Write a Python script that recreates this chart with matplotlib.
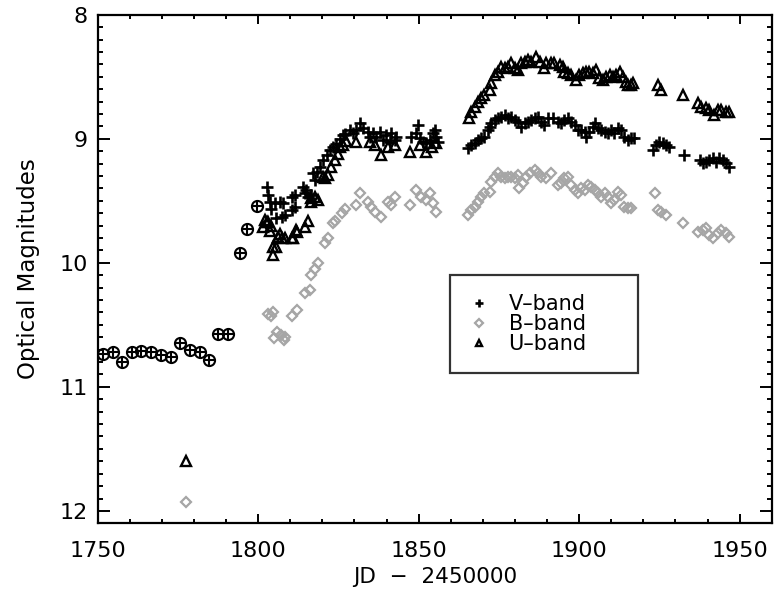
import numpy as np
import matplotlib
matplotlib.use('Agg')
import matplotlib.pyplot as plt
from matplotlib.ticker import MultipleLocator

# Early (pre-outburst) V photometry, drawn as circled plus
early_jd = [1751.6, 1754.7, 1757.7, 1760.6, 1763.5, 1766.5, 1769.6, 1772.7,
            1775.6, 1778.7, 1781.8, 1784.7, 1787.5, 1790.6, 1794.3, 1796.6, 1799.5]
early_mag = [10.736, 10.72, 10.80, 10.72, 10.71, 10.72, 10.74, 10.76,
             10.65, 10.70, 10.72, 10.78, 10.57, 10.57, 9.92, 9.73, 9.54]

# V-band
v_jd = [1802.6, 1803.1, 1803.6, 1804.1, 1805.2, 1806.7, 1807.8, 1805.7, 1807.3, 1808.3,
        1810.4, 1811.4, 1810.4, 1811.4, 1814.0, 1814.5, 1815.0, 1815.6, 1816.6, 1817.1,
        1817.6, 1818.2, 1819.2, 1820.2, 1821.3, 1822.3, 1823.3, 1824.4, 1825.4, 1826.5,
        1827.0, 1828.5, 1829.5,
        1830.6, 1831.6, 1832.7, 1834.2, 1834.8, 1835.8, 1836.8, 1837.9, 1838.9, 1839.9,
        1841.0, 1841.5, 1842.5, 1843.0, 1847.7, 1849.3, 1849.8, 1850.3, 1851.4, 1852.4,
        1853.4, 1854.5, 1855.0, 1855.5, 1856.0,
        1865.4, 1866.4, 1867.4, 1868.5, 1869.5, 1870.5, 1871.6, 1872.1, 1872.6, 1873.7,
        1874.7, 1875.7, 1876.8, 1877.8, 1878.8, 1879.9, 1880.9, 1882.0, 1883.0, 1884.0,
        1885.1, 1886.1, 1887.1, 1888.2, 1889.2, 1890.3, 1891.8, 1893.4, 1894.4, 1895.4,
        1896.5, 1897.5, 1898.6, 1899.6, 1900.6, 1901.7, 1902.2, 1903.2, 1904.3, 1904.8,
        1905.8, 1906.9, 1907.9, 1908.9, 1910.0, 1911.0, 1912.0, 1913.1, 1914.1, 1915.2,
        1916.2, 1917.2, 1922.9, 1924.0, 1925.0, 1926.1, 1927.1, 1928.1, 1932.8, 1937.5,
        1938.5, 1939.5, 1940.6, 1941.6, 1942.7, 1943.7, 1944.7, 1945.8, 1946.8]
v_mag = [9.39, 9.45, 9.51, 9.57, 9.52, 9.51, 9.52, 9.64, 9.63, 9.615,
         9.47, 9.455, 9.575, 9.55, 9.39, 9.44, 9.41, 9.47, 9.455, 9.28,
         9.33, 9.27, 9.23, 9.17, 9.13, 9.09, 9.065, 9.04, 9.0, 8.97,
         8.96, 8.93, 8.95,
         8.93, 8.875, 8.915, 8.945, 8.985, 8.955, 8.985, 8.945, 9.01, 8.97,
         9.025, 8.955, 9.01, 8.985, 8.985, 8.955, 8.89, 8.995, 9.025, 9.035,
         9.01, 8.955, 8.93, 8.985, 9.025,
         9.078, 9.051, 9.037, 9.010, 8.997, 8.984, 8.930, 8.903, 8.876, 8.849,
         8.836, 8.822, 8.809, 8.836, 8.822, 8.849, 8.863, 8.903, 8.876, 8.863,
         8.849, 8.836, 8.822, 8.863, 8.890, 8.836, 8.836, 8.863, 8.876, 8.849,
         8.836, 8.863, 8.890, 8.930, 8.930, 8.943, 8.984, 8.943, 8.903, 8.876,
         8.916, 8.930, 8.943, 8.957, 8.930, 8.957, 8.916, 8.930, 8.984, 9.010,
         8.997, 8.997, 9.091, 9.051, 9.024, 9.037, 9.051, 9.064, 9.131, 9.172,
         9.199, 9.185, 9.172, 9.158, 9.185, 9.158, 9.172, 9.199, 9.226]

# B-band
b_jd = [1777.5,
        1803.1, 1804.0, 1804.5, 1805.0, 1806.0, 1807.0, 1808.0, 1808.5, 1810.4, 1812.0,
        1814.5, 1816.0, 1816.6, 1817.7, 1818.7, 1820.8, 1821.8, 1823.3, 1823.9, 1826.0,
        1827.0, 1830.6, 1831.6, 1834.2, 1835.3, 1836.3, 1838.4, 1840.5, 1841.5, 1842.6,
        1847.2, 1849.3, 1850.8, 1852.4, 1853.4, 1854.4, 1855.5,
        1865.4, 1866.4, 1867.4, 1868.5, 1869.5, 1870.5, 1872.1, 1872.6, 1873.7, 1874.7,
        1875.7, 1876.8, 1877.8, 1878.8, 1879.9, 1880.9, 1881.4, 1882.5, 1883.5, 1884.6,
        1886.1, 1887.1, 1888.2, 1889.7, 1891.3, 1893.4, 1894.4, 1895.4, 1896.5, 1897.5,
        1898.6, 1899.6, 1900.6, 1901.7, 1902.7, 1903.7, 1904.8, 1905.8, 1906.9, 1907.9,
        1908.9, 1910.0, 1911.0, 1912.0, 1913.1, 1914.1, 1915.2, 1916.2, 1923.5, 1924.5,
        1925.5, 1927.1, 1932.3, 1936.9, 1938.5, 1939.5, 1940.6, 1941.6, 1943.2, 1944.2,
        1945.8, 1946.8]
b_mag = [11.93,
         10.41, 10.43, 10.40, 10.61, 10.56, 10.58, 10.62, 10.60, 10.43, 10.38,
         10.24, 10.22, 10.10, 10.05, 10.00, 9.84, 9.80, 9.68, 9.66, 9.60,
         9.57, 9.53, 9.44, 9.51, 9.55, 9.59, 9.63, 9.51, 9.53, 9.47,
         9.53, 9.41, 9.47, 9.49, 9.44, 9.52, 9.59,
         9.615, 9.575, 9.548, 9.508, 9.467, 9.441, 9.427, 9.347, 9.306, 9.279,
         9.306, 9.320, 9.306, 9.306, 9.320, 9.293, 9.400, 9.360, 9.306, 9.279,
         9.252, 9.279, 9.306, 9.320, 9.279, 9.373, 9.360, 9.320, 9.306, 9.373,
         9.414, 9.441, 9.400, 9.414, 9.373, 9.387, 9.414, 9.441, 9.467, 9.441,
         9.467, 9.521, 9.494, 9.427, 9.454, 9.548, 9.562, 9.562, 9.441, 9.575,
         9.588, 9.615, 9.683, 9.750, 9.736, 9.723, 9.777, 9.803, 9.763, 9.736,
         9.763, 9.790]

# U-band
u_jd = [1777.5,
        1801.5, 1802.1, 1802.6, 1803.1, 1803.6, 1804.1, 1804.7, 1804.7, 1805.7, 1806.2,
        1806.7, 1807.3, 1808.3, 1810.4, 1810.9, 1811.9, 1812.0, 1814.5, 1815.6, 1816.6,
        1816.6, 1817.7, 1818.7, 1820.3, 1820.7, 1821.8, 1822.8, 1823.9, 1824.9, 1825.5,
        1826.5, 1827.5, 1830.6, 1834.8, 1836.3, 1838.4, 1840.5, 1842.5, 1847.2, 1850.3,
        1852.4, 1854.0, 1855.5,
        1865.7, 1866.4, 1867.4, 1868.5, 1869.5, 1870.5, 1872.1, 1872.6, 1873.7, 1874.7,
        1875.7, 1876.8, 1877.8, 1878.8, 1879.9, 1880.9, 1882.0, 1883.0, 1884.0, 1885.1,
        1886.6, 1887.7, 1889.2, 1889.7, 1891.3, 1892.3, 1893.9, 1894.9, 1895.4, 1896.5,
        1897.5, 1899.1, 1900.1, 1901.2, 1902.2, 1903.2, 1904.3, 1905.3, 1906.3, 1907.4,
        1908.4, 1909.5, 1910.5, 1911.5, 1912.6, 1913.6, 1914.6, 1915.2, 1916.2, 1916.7,
        1924.5, 1925.5, 1932.3, 1936.9, 1938.0, 1939.5, 1940.6, 1942.1, 1943.2, 1944.2,
        1945.8, 1946.8]
u_mag = [11.60,
         9.71, 9.655, 9.67, 9.67, 9.74, 9.70, 9.87, 9.94, 9.87, 9.79,
         9.765, 9.80, 9.80, 9.80, 9.80, 9.735, 9.75, 9.71, 9.66, 9.48,
         9.51, 9.47, 9.49, 9.31, 9.32, 9.29, 9.225, 9.17, 9.12, 9.07,
         9.05, 9.02, 9.025, 9.025, 9.05, 9.13, 9.065, 9.05, 9.105, 9.05,
         9.105, 9.065, 9.035,
         8.835, 8.782, 8.742, 8.701, 8.674, 8.648, 8.607, 8.554, 8.486, 8.459,
         8.419, 8.433, 8.419, 8.392, 8.433, 8.446, 8.392, 8.379, 8.365, 8.379,
         8.338, 8.379, 8.433, 8.392, 8.392, 8.392, 8.406, 8.419, 8.459, 8.473,
         8.486, 8.527, 8.486, 8.473, 8.459, 8.459, 8.473, 8.446, 8.513, 8.527,
         8.500, 8.486, 8.500, 8.486, 8.459, 8.500, 8.540, 8.567, 8.567, 8.554,
         8.567, 8.607, 8.648, 8.715, 8.742, 8.755, 8.768, 8.809, 8.768, 8.768,
         8.782, 8.782]

plt.rcParams['font.family'] = 'DejaVu Sans'
plt.rcParams['font.size'] = 16

fig = plt.figure(figsize=(7.76, 5.98), dpi=100)
ax = fig.add_axes([0.1259, 0.1249, 0.8686, 0.8505])

grey = '#a6a6a6'
ax.plot(v_jd, v_mag, '+', color='black', ms=8, mew=1.9, ls='none', label='V\u2013band')
ax.plot(b_jd, b_mag, 'D', mfc='none', mec=grey, ms=5.5, mew=1.6, ls='none', label='B\u2013band')
ax.plot(u_jd, u_mag, '^', mfc='none', mec='black', ms=6.5, mew=1.7, ls='none', label='U\u2013band')
# early points: plus inside a circle
ax.plot(early_jd, early_mag, 'o', mfc='none', mec='black', ms=8, mew=1.5, ls='none')
ax.plot(early_jd, early_mag, '+', color='black', ms=8, mew=1.5, ls='none')

ax.set_xlim(1750, 1960)
ax.set_ylim(12.10, 8.0)

ax.xaxis.set_major_locator(MultipleLocator(50))
ax.xaxis.set_minor_locator(MultipleLocator(10))
ax.yaxis.set_major_locator(MultipleLocator(1))
ax.yaxis.set_minor_locator(MultipleLocator(0.1))
ax.tick_params(which='both', direction='in', top=True, right=True, width=1.4)
ax.tick_params(axis='x', which='major', length=6.5, pad=13, labelsize=16)
ax.tick_params(axis='x', which='minor', length=3.2)
ax.tick_params(axis='y', which='major', length=8.4, pad=7, labelsize=16)
ax.tick_params(axis='y', which='minor', length=3.8)
for s in ax.spines.values():
    s.set_linewidth(1.6)

ax.set_xlabel('JD  \u2212  2450000', fontsize=15.5, labelpad=4)
ax.set_ylabel('Optical Magnitudes', fontsize=16.5, labelpad=14)

leg = ax.legend(loc='upper left', bbox_to_anchor=(0.523, 0.2935, 0.279, 0.1945),
                mode='expand', frameon=True, fancybox=False, fontsize=15,
                markerscale=0.75, handlelength=1.0, handletextpad=0.9,
                borderpad=0.9, labelspacing=0.0, borderaxespad=0)
leg.get_frame().set_edgecolor('black')
leg.get_frame().set_linewidth(1.6)

fig.savefig('out.png', dpi=100)
